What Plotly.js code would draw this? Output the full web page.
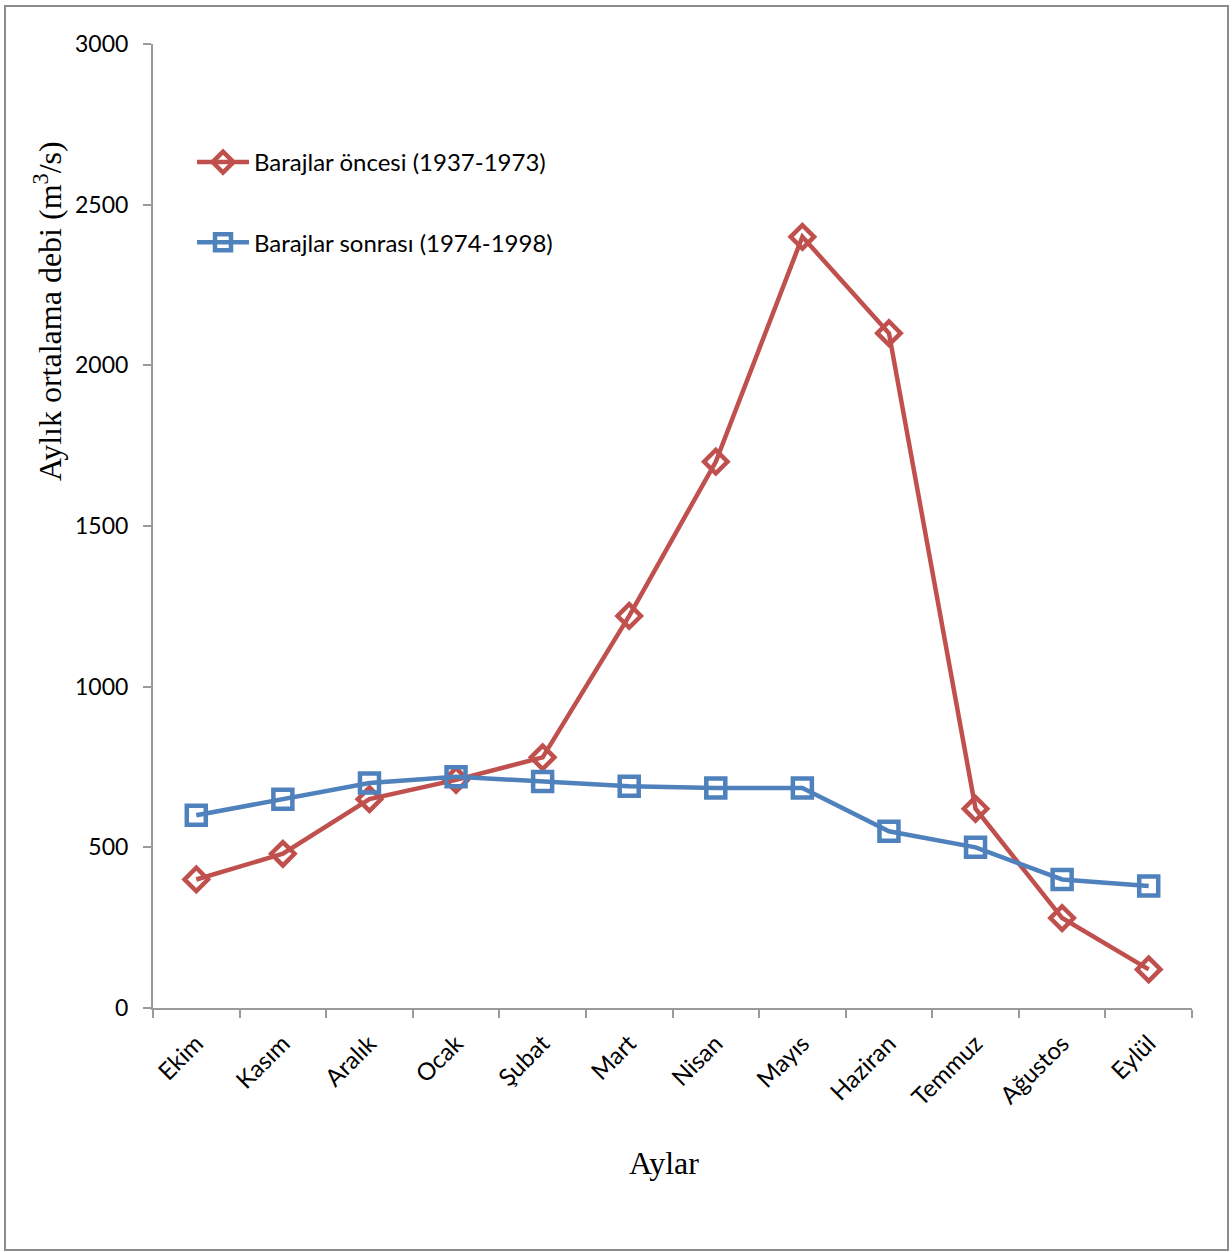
<!DOCTYPE html>
<html>
<head>
<meta charset="utf-8">
<script src="https://cdn.plot.ly/plotly-3.0.1.min.js"></script>
<style>body{margin:0;padding:0;background:#fff;} #chart{width:1232px;height:1252px;}</style>
</head>
<body>
<div id="chart"></div>
<script>
const months = ["Ekim","Kasım","Aralık","Ocak","Şubat","Mart","Nisan","Mayıs","Haziran","Temmuz","Ağustos","Eylül"];
const oncesi = [400, 480, 650, 710, 780, 1220, 1700, 2400, 2100, 620, 280, 120];
const sonrasi = [600, 650, 700, 720, 705, 690, 685, 685, 550, 500, 400, 380];
const yTicks = [0, 500, 1000, 1500, 2000, 2500, 3000];

const tickFont = {family: "Lato, 'Open Sans', sans-serif", size: 23, color: "#000"};
const xTickFont = {family: "Lato, 'Open Sans', sans-serif", size: 24, color: "#000"};
const L = 153, R = 1192, T = 44, B = 1008;
const W = R - L, H = B - T;
const px = x => (x - L) / W;
const py = y => (B - y) / H;

const traces = [
  {
    x: months, y: oncesi, type: "scatter", mode: "lines+markers",
    name: "Barajlar öncesi (1937-1973)", legendgroup: "a",
    line: {color: "#C0504D", width: 4.5},
    marker: {symbol: "diamond-open", size: 18, color: "#C0504D", line: {width: 4.5, color: "#C0504D"}}
  },
  {
    x: months, y: sonrasi, type: "scatter", mode: "lines+markers",
    name: "Barajlar sonrası (1974-1998)", legendgroup: "b",
    line: {color: "#4F81BD", width: 4.5},
    marker: {symbol: "square-open", size: 19, color: "#4F81BD", line: {width: 4.5, color: "#4F81BD"}}
  }
];

const layout = {
  width: 1232, height: 1252,
  margin: {l: L, r: 1232 - R, t: T, b: 1252 - B, pad: 0},
  paper_bgcolor: "#fff", plot_bgcolor: "#fff",
  showlegend: true,
  legend: {
    x: px(192), y: py(140), xanchor: "left", yanchor: "top",
    font: {family: "Lato, 'Open Sans', sans-serif", size: 24, color: "#000"},
    tracegroupgap: 46, itemwidth: 52, bgcolor: "rgba(0,0,0,0)"
  },
  xaxis: {
    type: "category", categoryorder: "array", categoryarray: months,
    range: [-0.5, 11.5], tickson: "boundaries",
    showline: true, linecolor: "#9a9a9a", linewidth: 2,
    ticks: "outside", ticklen: 8, tickwidth: 2, tickcolor: "#9a9a9a",
    showgrid: false, zeroline: false, tickangle: -45, tickfont: xTickFont,
    ticklabelstandoff: 10
  },
  yaxis: {
    range: [0, 3000], tickvals: yTicks, ticktext: yTicks.map(String),
    showline: true, linecolor: "#9a9a9a", linewidth: 2,
    ticks: "outside", ticklen: 8, tickwidth: 2, tickcolor: "#9a9a9a",
    showgrid: false, zeroline: false, tickfont: tickFont, ticklabelstandoff: 10
  },
  annotations: [
    {text: "Aylık ortalama debi (m<sup>3</sup>/s)", xref: "paper", yref: "paper",
     x: px(48), y: py(311), xanchor: "center", yanchor: "middle", textangle: -90,
     showarrow: false, font: {family: "'Liberation Serif', 'Times New Roman', serif", size: 32, color: "#000"}},
    {text: "Aylar", xref: "paper", yref: "paper",
     x: px(664), y: py(1163), xanchor: "center", yanchor: "middle",
     showarrow: false, font: {family: "'Liberation Serif', 'Times New Roman', serif", size: 32, color: "#000"}}
  ],
  shapes: [
    {type: "rect", xref: "paper", yref: "paper",
     x0: px(5), x1: px(1228), y0: py(1250), y1: py(6),
     line: {color: "#8c8c8c", width: 2}, fillcolor: "rgba(0,0,0,0)", layer: "below"}
  ]
};

Plotly.newPlot("chart", traces, layout, {displayModeBar: false, staticPlot: true});
</script>
</body>
</html>
